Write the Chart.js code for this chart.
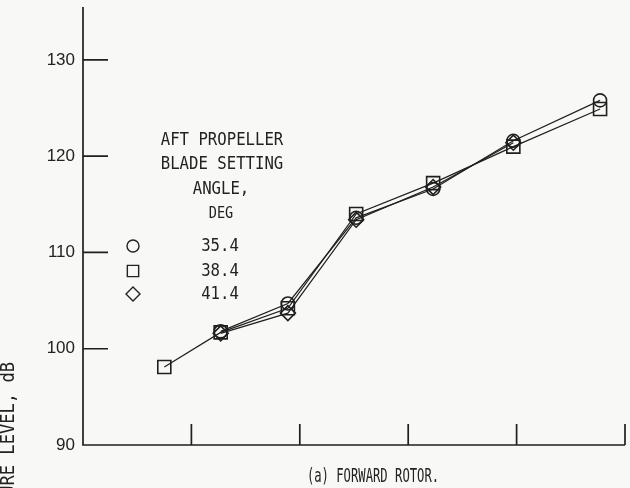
<!DOCTYPE html>
<html>
<head>
<meta charset="utf-8">
<script src="https://cdn.jsdelivr.net/npm/chart.js@4.4.1/dist/chart.umd.min.js"></script>
<style>
  html, body { margin: 0; padding: 0; background: #f8f8f6; }
  #wrap { width: 630px; height: 488px; }
</style>
</head>
<body>
<div id="wrap"><canvas id="chart" width="630" height="488"></canvas></div>
<script>
// forward rotor level vs. (unlabelled) abscissa, one series per aft blade angle
const rotorX   = [0.75, 1.27, 1.89, 2.52, 3.23, 3.97, 4.77];
const level354 = [null, 101.8, 104.7, 113.6, 116.6, 121.6, 125.8];
const level384 = [98.1, 101.7, 104.2, 114.0, 117.2, 121.0, 124.9];
const level414 = [null, 101.6, 103.7, 113.4, 116.8, 121.4, null];
const angleLabels = ['35.4', '38.4', '41.4'];
const angleStyles = ['circle', 'rect', 'rectRot'];
const yTicks = [90, 100, 110, 120, 130];
const xTicks = [1, 2, 3, 4, 5];

const ink = '#1f1f1f';
const textInk = '#222';

function pts(ys) {
  return rotorX.map((x, i) => ({ x: x, y: ys[i] }));
}

// condensed typewriter-ish text
function typeText(ctx, str, x, y, size, sx, align) {
  ctx.save();
  ctx.translate(x, y);
  ctx.scale(sx, 1);
  ctx.font = size + 'px "DejaVu Sans Mono", "Liberation Mono", monospace';
  ctx.textAlign = align || 'center';
  ctx.textBaseline = 'middle';
  ctx.fillText(str, 0, 0);
  ctx.restore();
}

const paperAxes = {
  id: 'paperAxes',
  beforeDatasetsDraw(chart) {
    const { ctx, chartArea: a, scales: { x, y } } = chart;
    ctx.save();
    ctx.strokeStyle = ink;
    ctx.lineWidth = 1.7;
    ctx.beginPath();
    ctx.moveTo(a.left, a.top);
    ctx.lineTo(a.left, a.bottom);
    ctx.lineTo(a.right, a.bottom);
    yTicks.forEach(v => {
      if (v === y.min) return;
      const py = y.getPixelForValue(v);
      ctx.moveTo(a.left, py);
      ctx.lineTo(a.left + 25, py);
    });
    xTicks.forEach(v => {
      const px = x.getPixelForValue(v);
      ctx.moveTo(px, a.bottom);
      ctx.lineTo(px, a.bottom - 21);
    });
    ctx.stroke();
    ctx.restore();
  },
  afterDraw(chart) {
    const { ctx } = chart;
    ctx.save();
    ctx.fillStyle = textInk;
    ctx.strokeStyle = textInk;

    // key block
    typeText(ctx, 'AFT PROPELLER', 222, 140, 18, 0.87);
    typeText(ctx, 'BLADE SETTING', 222, 164, 18, 0.87);
    typeText(ctx, 'ANGLE,', 221, 189, 18, 0.87);
    typeText(ctx, 'DEG', 221, 214, 16, 0.85);
    const rowY = [246, 271, 294];
    const keyRadius = [6, 8, 7];
    angleLabels.forEach((lab, i) => {
      typeText(ctx, lab, 220, rowY[i], 18, 0.87);
      ctx.fillStyle = 'rgba(0,0,0,0)';
      ctx.lineWidth = 1.4;
      Chart.helpers.drawPoint(ctx, {
        pointStyle: angleStyles[i], radius: keyRadius[i], rotation: 0, borderWidth: 1.4
      }, 133, rowY[i]);
      ctx.fillStyle = textInk;
    });

    // caption under the axis
    typeText(ctx, '(a) FORWARD ROTOR.', 373, 477, 20, 0.61);

    // y-axis title, runs off the bottom edge
    ctx.save();
    ctx.translate(9, 362);
    ctx.rotate(-Math.PI / 2);
    ctx.scale(0.9, 1);
    ctx.font = '19px "DejaVu Sans Mono", "Liberation Mono", monospace';
    ctx.textAlign = 'right';
    ctx.textBaseline = 'middle';
    ctx.fillText('SOUND PRESSURE LEVEL, dB', 0, 0);
    ctx.restore();

    ctx.restore();
  }
};

function series(label, data, style, radius) {
  return {
    label: label,
    data: pts(data),
    showLine: true,
    borderColor: ink,
    borderWidth: 1.2,
    pointStyle: style,
    pointRadius: radius,
    pointBorderWidth: 1.6,
    pointBorderColor: ink,
    pointBackgroundColor: 'rgba(0,0,0,0)',
    tension: 0
  };
}

new Chart(document.getElementById('chart'), {
  type: 'scatter',
  data: {
    datasets: [
      series(angleLabels[0], level354, angleStyles[0], 6.5),
      series(angleLabels[1], level384, angleStyles[1], 9.2),
      series(angleLabels[2], level414, angleStyles[2], 7.5)
    ]
  },
  options: {
    responsive: false,
    animation: false,
    events: [],
    layout: { autoPadding: false, padding: { left: 0, right: 5, top: 7, bottom: 0 } },
    plugins: { legend: { display: false }, tooltip: { enabled: false } },
    scales: {
      x: {
        type: 'linear', min: 0, max: 5,
        grid: { display: false, drawTicks: false },
        border: { display: false },
        ticks: { display: false },
        afterFit: s => {
          s.height = 43;
          s.paddingLeft = 0; s.paddingRight = 0;
        }
      },
      y: {
        type: 'linear', min: 90, max: 135.5,
        grid: { display: false, drawTicks: false },
        border: { display: false },
        afterBuildTicks: s => { s.ticks = yTicks.map(v => ({ value: v })); },
        ticks: {
          padding: 8,
          color: textInk,
          font: { family: '"Liberation Sans", Arial, sans-serif', size: 17 }
        },
        afterFit: s => {
          s.width = 83;
          s.paddingTop = 0; s.paddingBottom = 0;
        }
      }
    }
  },
  plugins: [paperAxes]
});
</script>
</body>
</html>
